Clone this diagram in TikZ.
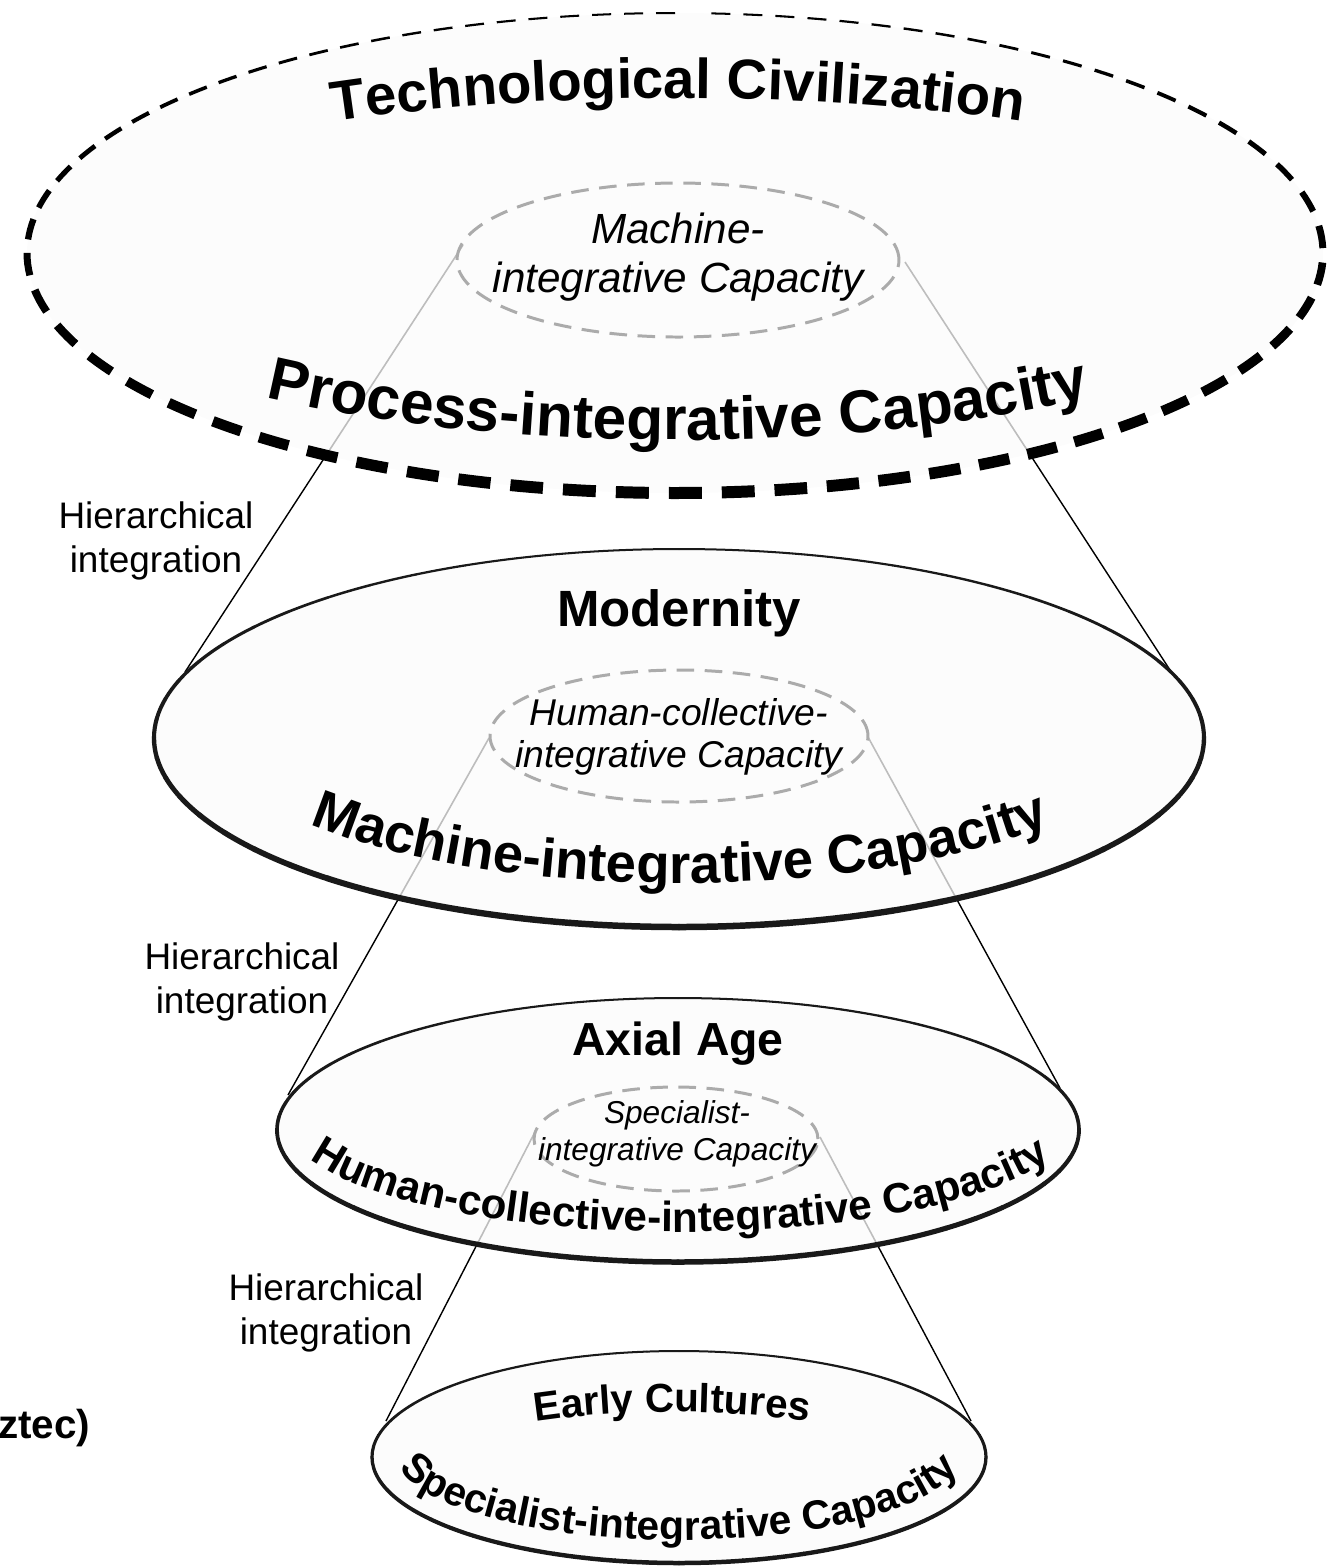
\documentclass[tikz,border=0pt]{standalone}
\usepackage{fontspec}
\setmainfont{Liberation Sans}
\usetikzlibrary{decorations.text}
\definecolor{discfill}{HTML}{FCFCFC}
\definecolor{conegray}{HTML}{BDBDBD}
\definecolor{capgray}{HTML}{ABABAB}
\tikzset{
  cone/.style={line width=0.4pt},
  coneback/.style={conegray, line width=0.45pt},
  capring/.style={capgray, line width=0.85pt, dash pattern=on 5pt off 3pt},
  disc/.style={fill=discfill},
  rim/.style={black!90, line cap=round},
  captext/.style={align=center},
  hier/.style={align=center, font=\fontsize{10.5}{12.5}\selectfont},
  bendtext/.style={decorate, decoration={text along path, text align=center, text={#1}}}
}

\begin{document}
\begin{tikzpicture}[x=0.01cm,y=0.01cm]
\useasboundingbox (0,0) rectangle (1338,-1568);

% centres of the discs and of the inner rings
\coordinate (tc) at (675,-253);
\coordinate (mo) at (679,-738);
\coordinate (ax) at (678,-1130);
\coordinate (ec) at (679,-1457);
\coordinate (tci) at (678,-260);
\coordinate (moi) at (679,-736);
\coordinate (axi) at (676,-1139);

% ends of the cone lines
\coordinate (c1a) at (463,-245);  \coordinate (c1b) at (185,-672);
\coordinate (c1c) at (905,-262);  \coordinate (c1d) at (1170,-670);
\coordinate (c2a) at (489,-738);  \coordinate (c2b) at (288,-1095);
\coordinate (c2c) at (868,-737);  \coordinate (c2d) at (1060,-1088);
\coordinate (c3a) at (536,-1130); \coordinate (c3b) at (386,-1421);
\coordinate (c3c) at (820,-1137); \coordinate (c3d) at (971,-1421);

\draw[cone] (c1a) -- (c1b) (c1c) -- (c1d);
\draw[cone] (c2a) -- (c2b) (c2c) -- (c2d);
\draw[cone] (c3a) -- (c3b) (c3c) -- (c3d);

\fill[disc] (tc) ellipse[x radius=648, y radius=240];
\fill[disc] (mo) ellipse[x radius=525, y radius=189];
\fill[disc] (ax) ellipse[x radius=401, y radius=132];
\fill[disc] (ec) ellipse[x radius=307, y radius=106];

% grey part of the cones, inside the discs
\begin{scope}
\clip (tc) ellipse[x radius=648, y radius=240];
\draw[coneback] (c1a) -- (c1b) (c1c) -- (c1d);
\end{scope}
\begin{scope}
\clip (mo) ellipse[x radius=525, y radius=189];
\draw[coneback] (c2a) -- (c2b) (c2c) -- (c2d);
\end{scope}
\begin{scope}
\clip (ax) ellipse[x radius=401, y radius=132];
\draw[coneback] (c3a) -- (c3b) (c3c) -- (c3d);
\end{scope}

% dashed outer rim, thicker towards the front
\xdef\tcur{90}
\foreach \k in {1,...,120}{
  \pgfmathsetmacro\f{(1-sin(\tcur))/2}
  \pgfmathsetmacro\w{2+10*\f}
  \pgfmathsetmacro\spd{veclen(6.48*sin(\tcur),2.40*cos(\tcur))*100/57.296}
  \pgfmathsetmacro\te{\tcur+(19+14*\f*\f)/\spd}
  \pgfmathsetmacro\tn{\tcur+(32+21*\f*\f)/\spd}
  \ifdim\te pt<449pt
    \draw[line width=\w*0.01cm] (tc) ++(\tcur:648 and 240) arc[start angle=\tcur,end angle=\te,x radius=648,y radius=240];
  \fi
  \xdef\tcur{\tn}
}

% solid rims
\foreach \cn/\rx/\ry/\wa/\wb in {mo/525/189/2/6.5, ax/401/132/2/5.5, ec/307/106/2/4.5}{
  \foreach \a in {0,6,...,354}{
    \pgfmathsetmacro\w{\wa+(\wb-\wa)*(1-sin(\a+3))/2}
    \pgfmathsetmacro\b{\a+6}
    \draw[rim, line width=\w*0.01cm] (\cn) ++({\rx*cos(\a)},{\ry*sin(\a)}) arc[start angle=\a,end angle=\b,x radius=\rx,y radius=\ry];
  }
}

\draw[capring] (tci) ellipse[x radius=221, y radius=77];
\draw[capring] (moi) ellipse[x radius=189, y radius=66];
\draw[capring] (axi) ellipse[x radius=142, y radius=52];

\node[captext, font=\itshape\fontsize{12}{14}\selectfont] (machcap) at (678,-257) {Machine-\\integrative Capacity};
\node[captext, font=\itshape\fontsize{10.6}{12}\selectfont] (humcap) at (679,-737) {Human-collective-\\integrative Capacity};
\node[captext, font=\itshape\fontsize{9}{10.4}\selectfont] (speccap) at (677,-1134) {Specialist-\\integrative Capacity};

\path[bendtext={|\bfseries\fontsize{16}{18}\selectfont|Technological Civilization}] (28,-255) arc[start angle=180,end angle=0,x radius=650,y radius=157];
\path[bendtext={|\bfseries\fontsize{17.2}{20}\selectfont|Process-integrative Capacity}] (33,-255) arc[start angle=180,end angle=360,x radius=645,y radius=185];
\node[anchor=base, font=\bfseries\fontsize{14.5}{16}\selectfont] (modern) at (679,-626) {Modernity};
\path[bendtext={|\bfseries\fontsize{15.5}{18}\selectfont|Machine-integrative Capacity}] (220,-738) arc[start angle=180,end angle=360,x radius=460,y radius=145];
\node[anchor=base, font=\bfseries\fontsize{13.2}{15}\selectfont] (axial) at (678,-1055) {Axial Age};
\path[bendtext={|\bfseries\fontsize{12}{14}\selectfont|Human-collective-integrative Capacity}] (285,-1120) arc[start angle=180,end angle=360,x radius=395,y radius=112];
\path[bendtext={|\bfseries\fontsize{11.5}{13}\selectfont|Early Cultures}] (372,-1500) arc[start angle=180,end angle=0,x radius=300,y radius=88];
\path[bendtext={|\bfseries\fontsize{11.6}{13}\selectfont|Specialist-integrative Capacity}] (398.3,-1436.7) arc[start angle=170,end angle=370,x radius=285,y radius=88];

\node[hier] (hier1) at (156,-541) {Hierarchical\\integration};
\node[hier] (hier2) at (242,-982) {Hierarchical\\integration};
\node[hier] (hier3) at (326,-1313) {Hierarchical\\integration};

\node[anchor=base east, inner sep=0pt, font=\bfseries\fontsize{11.5}{13}\selectfont] (aztec) at (91,-1438) {ztec)};
\end{tikzpicture}
\end{document}
